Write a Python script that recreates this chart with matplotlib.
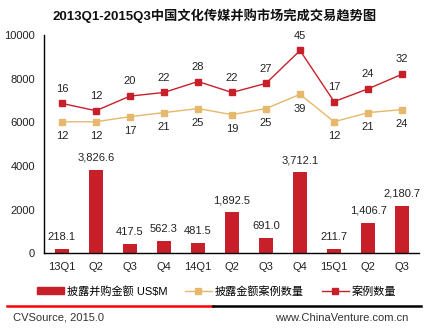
import matplotlib.pyplot as plt
from matplotlib.lines import Line2D
from matplotlib.patches import Patch

plt.rcParams['font.family'] = ['Liberation Sans', 'Noto Sans CJK SC', 'DejaVu Sans']

quarters = ['13Q1', 'Q2', 'Q3', 'Q4', '14Q1', 'Q2', 'Q3', 'Q4', '15Q1', 'Q2', 'Q3']
deal_amount = [218.1, 3826.6, 417.5, 562.3, 481.5, 1892.5, 691.0, 3712.1, 211.7, 1406.7, 2180.7]
disclosed_cases = [12, 12, 17, 21, 25, 19, 25, 39, 12, 21, 24]
total_cases = [16, 12, 20, 22, 28, 22, 27, 45, 17, 24, 32]

red = '#C8202B'
gold = '#E6B86C'

fig = plt.figure(figsize=(4.29, 3.30), dpi=100)
ax = fig.add_axes([0.103, 0.232, 0.874, 0.662])
x = list(range(len(quarters)))

ax.bar(x, deal_amount, width=0.41, color=red, zorder=2)
for xi, v in zip(x, deal_amount):
    ax.annotate(f'{v:,.1f}', (xi, v), xytext=(0, 5), textcoords='offset points',
                ha='center', va='bottom', fontsize=8, color='#222222')

ax.set_ylim(0, 10000)
ax.set_xlim(-0.52, 10.5)
ax.set_yticks([0, 2000, 4000, 6000, 8000, 10000])
ax.set_xticks(x)
ax.set_xticklabels(quarters)
ax.tick_params(axis='both', length=0, labelsize=8, colors='#222222', pad=6)
ax.tick_params(axis='y', pad=6.5)
for side in ['top', 'right']:
    ax.spines[side].set_visible(False)
ax.spines['left'].set_linewidth(1.0)
ax.spines['bottom'].set_linewidth(1.0)

# case counts sit on their own hidden scales above the bars
ax_total = ax.twinx()
ax_total.set_ylim(-66.2, 53.5)
ax_total.plot(x, total_cases, color=red, lw=1.0, marker='s', ms=4, zorder=3)
for xi, v in zip(x, total_cases):
    ax_total.annotate(str(v), (xi, v), xytext=(0, 7), textcoords='offset points',
                      ha='center', va='bottom', fontsize=8, color='#222222')

ax_disc = ax.twinx()
ax_disc.set_ylim(-117.6, 97.4)
ax_disc.plot(x, disclosed_cases, color=gold, lw=1.0, marker='s', ms=4, zorder=3)
for xi, v in zip(x, disclosed_cases):
    ax_disc.annotate(str(v), (xi, v), xytext=(0, -7), textcoords='offset points',
                     ha='center', va='top', fontsize=8, color='#222222')

for a in (ax_total, ax_disc):
    a.axis('off')

fig.text(0.5, 0.953, '2013Q1-2015Q3中国文化传媒并购市场完成交易趋势图',
         ha='center', va='center', fontsize=9.5, fontweight='bold', color='#111111')

handles = [
    Patch(color=red),
    Line2D([], [], color=gold, lw=1.0, marker='s', ms=4),
    Line2D([], [], color=red, lw=1.0, marker='s', ms=4),
]
labels = ['披露并购金额 US$M', '披露金额案例数量', '案例数量']
fig.legend(handles, labels, loc='center', bbox_to_anchor=(0.505, 1 - 291 / 330), ncol=3,
           frameon=False, fontsize=8, handlelength=2.4, handleheight=0.5,
           handletextpad=0.3, columnspacing=1.6)

# footer rule: red left half, black right half
sep_y = 1 - 305.7 / 330
fig.add_artist(Line2D([7 / 429, 213 / 429], [sep_y, sep_y], color='#FF0000', lw=1.8))
fig.add_artist(Line2D([213 / 429, 421 / 429], [sep_y, sep_y], color='black', lw=1.8))

fig.text(13 / 429, 1 - 318 / 330, 'CVSource, 2015.0', ha='left', va='center',
         fontsize=8, color='#333333')
fig.text(408 / 429, 1 - 318 / 330, 'www.ChinaVenture.com.cn', ha='right', va='center',
         fontsize=8, color='#333333')

fig.savefig('out.png', dpi=100)
